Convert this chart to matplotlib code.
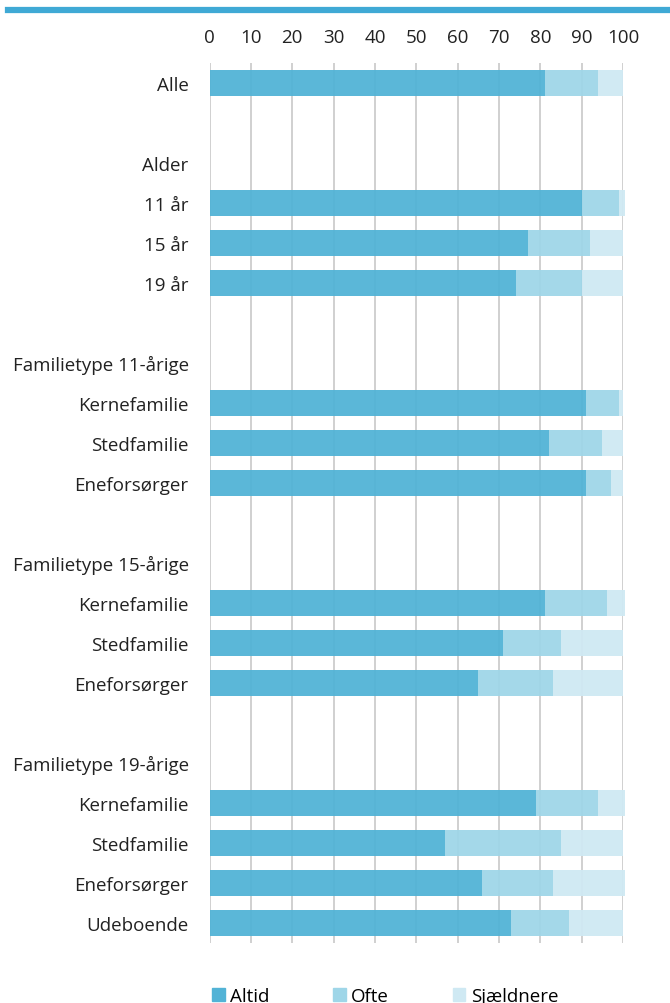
import numpy as np
import matplotlib.pyplot as plt
from matplotlib.lines import Line2D

plt.rcParams['font.family'] = ['Open Sans', 'DejaVu Sans']

# Rows from top to bottom ("" = empty spacer row, headers have no bars)
labels = ["Alle", "", "Alder", "11 år", "15 år", "19 år", "",
          "Familietype 11-årige", "Kernefamilie", "Stedfamilie", "Eneforsørger", "",
          "Familietype 15-årige", "Kernefamilie", "Stedfamilie", "Eneforsørger", "",
          "Familietype 19-årige", "Kernefamilie", "Stedfamilie", "Eneforsørger", "Udeboende"]

altid = [81, 0, 0, 90, 77, 74, 0, 0, 91, 82, 91, 0, 0, 81, 71, 65, 0, 0, 79, 57, 66, 73]
ofte = [13, 0, 0, 9, 15, 16, 0, 0, 8, 13, 6, 0, 0, 15, 14, 18, 0, 0, 15, 28, 17, 14]
sjaeldnere = [6, 0, 0, 1.5, 8, 10, 0, 0, 1, 5, 3, 0, 0, 4.5, 15, 17, 0, 0, 6.5, 15, 17.5, 13]

series = ["Altid", "Ofte", "Sjældnere"]
colors = ["#52B3D6", "#9FD6E8", "#CFE9F3"]

fig = plt.figure(figsize=(6.7, 10.04), dpi=100)
ax = fig.add_axes([0.3127, 0.0598, 0.6173, 0.8765])

y = np.arange(len(labels))
a = np.array(altid, float)
o = np.array(ofte, float)
s = np.array(sjaeldnere, float)
h = 0.63
ax.barh(y, a, height=h, color=colors[0], alpha=0.95, zorder=3, clip_on=False)
ax.barh(y, o, left=a, height=h, color=colors[1], alpha=0.95, zorder=3, clip_on=False)
ax.barh(y, s, left=a + o, height=h, color=colors[2], alpha=0.95, zorder=3, clip_on=False)

ax.set_xlim(0, 100)
ax.set_ylim(len(labels) - 0.5, -0.5)
ax.set_xticks(range(0, 101, 10))
ax.xaxis.tick_top()
ax.set_yticks(y)
ax.set_yticklabels(labels)
ax.tick_params(axis='both', length=0, labelsize=13.5, colors='#222222')
ax.tick_params(axis='x', pad=12)
ax.tick_params(axis='y', pad=15)
ax.grid(axis='x', color='#C4C4C4', linewidth=1.1, zorder=1)
ax.set_axisbelow(True)
for sp in ax.spines.values():
    sp.set_visible(False)

# blue rule at the top
fig.add_artist(Line2D([0.012, 1.0], [0.9895, 0.9895], color='#3FA9D5', linewidth=4.5))

handles = [plt.Rectangle((0, 0), 1, 1, color=c) for c in colors]
fig.legend(handles, series, loc='center', bbox_to_anchor=(0.575, 0.007), ncol=3,
           frameon=False, fontsize=13.5, handlelength=0.65, handleheight=0.65,
           handletextpad=0.3, columnspacing=3.4)

fig.savefig("out.png", dpi=100)
